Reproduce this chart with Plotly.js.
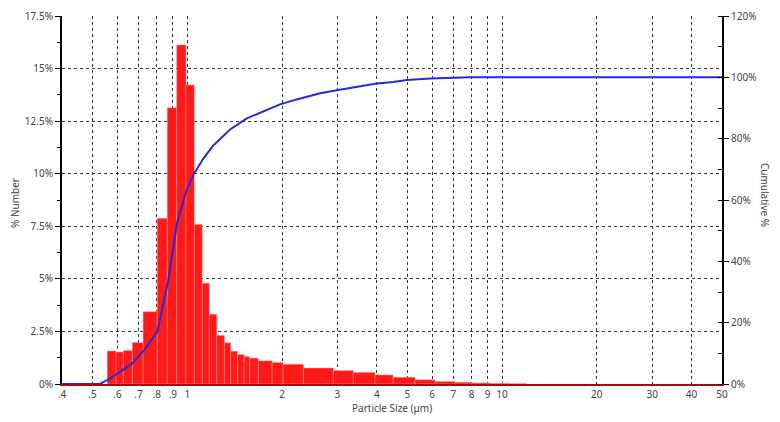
<!DOCTYPE html>
<html>
<head>
<meta charset="utf-8">
<script src="https://cdn.plot.ly/plotly-3.0.1.min.js"></script>
<style>html,body{margin:0;padding:0;background:#fff;}#chart{width:780px;height:422px;}</style>
</head>
<body>
<div id="chart"></div>
<script>
// Histogram bins (particle size, µm) and % number
const binLo = [0.557,0.594,0.626,0.669,0.724,0.803,0.864,0.926,0.991,1.053,1.116,1.175,1.241,1.312,1.374,1.445,1.515,1.58,1.682,1.86,2.016,2.338,2.912,3.370,3.950,4.508,5.293,6.128,7.096,8.03,9.16,10.6];
const binHi = [0.594,0.626,0.669,0.724,0.803,0.864,0.926,0.991,1.053,1.116,1.175,1.241,1.312,1.374,1.445,1.515,1.58,1.682,1.86,2.016,2.338,2.912,3.370,3.950,4.508,5.293,6.128,7.096,8.03,9.16,10.6,12.0];
const pctNumber = [1.57,1.52,1.59,1.97,3.44,7.88,13.14,16.12,14.22,7.59,4.79,3.32,2.31,1.96,1.56,1.40,1.30,1.23,1.10,1.02,0.94,0.76,0.64,0.55,0.43,0.32,0.20,0.12,0.08,0.05,0.03,0.015];

// Cumulative curve
const cumSize = [0.4,0.528,0.557,0.626,0.669,0.724,0.803,0.871,0.928,0.996,1.05,1.125,1.21,1.368,1.546,1.789,1.972,2.228,2.642,2.985,3.456,4.0,4.516,4.98,5.91,7.01,7.92,50];
const cumPct  = [0,0,1.3,4.6,6.8,10.6,17,34,52.5,63.4,68.5,73.5,77.8,83,86.6,89.5,91.2,92.8,94.8,95.8,97,98,98.5,99.1,99.6,99.7,100,100];

// Axis ticks
const xTickVals = [0.4,0.5,0.6,0.7,0.8,0.9,1,2,3,4,5,6,7,8,9,10,20,30,40,50];
const xTickText = ['.4','.5','.6','.7','.8','.9','1','2','3','4','5','6','7','8','9','10','20','30','40','50'];
const xMin = 0.4, xMax = 50;

const L = Math.log10;
const barX = binLo.map((lo,i)=> (L(lo)+L(binHi[i]))/2);
const barW = binLo.map((lo,i)=> L(binHi[i])-L(lo));

const font = {family:'"Noto Sans", "Open Sans", sans-serif', size:10, color:'#444'};

const traces = [
  {type:'bar', x:barX, y:pctNumber, width:barW, xaxis:'x', yaxis:'y',
   marker:{color:'#ff1a1a', line:{color:'rgba(255,150,150,0.8)', width:0.6}},
   hoverinfo:'skip', showlegend:false},
  {type:'scatter', mode:'lines', x:cumSize.map(L), y:cumPct, xaxis:'x', yaxis:'y2',
   line:{color:'#2a2ad0', width:2}, hoverinfo:'skip', showlegend:false}
];

const grid = {gridcolor:'#333', griddash:'dot', gridwidth:1};

const layout = {
  width:780, height:422,
  margin:{l:62, r:58, t:16, b:38, pad:0},
  paper_bgcolor:'#fff', plot_bgcolor:'#fff',
  font:font, bargap:0, showlegend:false,
  xaxis:Object.assign({
    type:'linear', range:[L(xMin), L(xMax)],
    tickmode:'array', tickvals:xTickVals.map(L), ticktext:xTickText,
    showgrid:true, zeroline:false, showline:true, linecolor:'#9a1010', linewidth:1.5,
    ticks:'', tickfont:font
  }, grid),
  yaxis:Object.assign({
    range:[0,17.5], dtick:2.5, tick0:0, ticksuffix:'%',
    showgrid:true, zeroline:false, showline:true, linecolor:'#000', linewidth:2,
    ticks:'outside', ticklen:5, tickcolor:'#000', tickwidth:1,
    minor:{dtick:1.25, ticks:'outside', ticklen:3, tickcolor:'#000', showgrid:false},
    tickfont:font
  }, grid),
  yaxis2:{
    overlaying:'y', side:'right', range:[0,120], dtick:20, tick0:0, ticksuffix:'%',
    showgrid:false, zeroline:false, showline:true, linecolor:'#000', linewidth:2,
    ticks:'outside', ticklen:5, tickcolor:'#000',
    minor:{dtick:10, ticks:'inside', ticklen:4, tickcolor:'#000', showgrid:false},
    tickfont:font
  },
  annotations:[
    {text:'% Number', xref:'paper', yref:'paper', x:0, y:0.5, xshift:-47, yshift:-3,
     textangle:-90, showarrow:false, font:font, xanchor:'center', yanchor:'middle'},
    {text:'Cumulative %', xref:'paper', yref:'paper', x:1, y:0.5, xshift:43, yshift:5,
     textangle:90, showarrow:false, font:font, xanchor:'center', yanchor:'middle'},
    {text:'Particle Size (µm)', xref:'paper', yref:'paper', x:0.5, y:0, yshift:-24,
     showarrow:false, font:font, xanchor:'center', yanchor:'middle'}
  ]
};

Plotly.newPlot('chart', traces, layout, {staticPlot:true, displayModeBar:false});
</script>
</body>
</html>
